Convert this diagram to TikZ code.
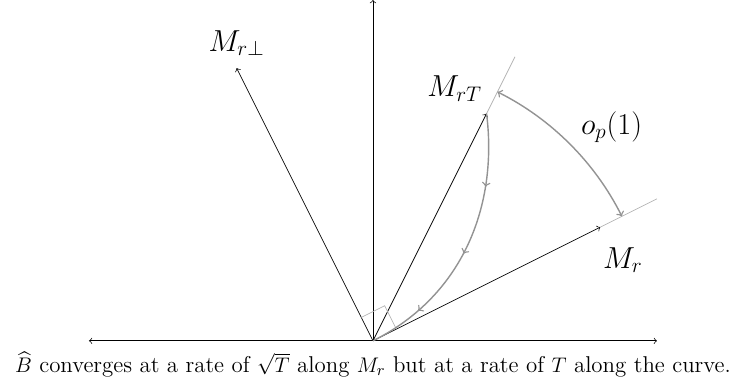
\documentclass[tikz,border=0pt]{standalone}
\usepackage{amsmath,amssymb}
\usetikzlibrary{decorations.markings}

\begin{document}
\begin{tikzpicture}[x=2.27cm,y=2.27cm,
    axis/.style={<->},
    vec/.style={->},
    guide/.style={gray!60},
    lbl/.style={font=\fontsize{18}{22}\selectfont},
    flow/.style={thick,gray!85,postaction={decorate},
                 decoration={markings,
                   mark=at position .27 with {\arrow{>}},
                   mark=at position .53 with {\arrow{>}},
                   mark=at position .80 with {\arrow{>}}}}]
    \useasboundingbox (-3.283,-0.37) rectangle (3.222,3.0);
    % axes
    \coordinate (O) at (0,0);
    \coordinate (xl) at (-2.5,0);
    \coordinate (xr) at (2.5,0);
    \coordinate (yt) at (0,3);
    \draw[axis] (xl) -- (xr);
    \draw[->] (O) -- (yt);
    % vectors
    \coordinate (Mr) at (2,1);
    \coordinate (MrT) at (1,2);
    \coordinate (Mperp) at (-1.2,2.4);
    \coordinate (Mrext) at (2.5,1.25);
    \coordinate (MrText) at (1.25,2.5);
    \draw[guide] (Mr) -- (Mrext);
    \draw[guide] (MrT) -- (MrText);
    \draw[vec] (O) -- (Mr);
    \draw[vec] (O) -- (MrT);
    \draw[vec] (O) -- (Mperp);
    % right angle
    \draw[guide] (-0.103,0.206) -- (0.103,0.309) -- (0.206,0.103);
    % curve and gap
    \draw[flow] (MrT) .. controls (1.1,1.2) and (0.8,0.4) .. (O);
    \coordinate (arcA) at (63.43:2.45);
    \draw[thick,gray!85,<->] (arcA) arc[start angle=63.43,end angle=26.57,radius=2.45];
    % labels
    \node[lbl] (lMr) at (2.2,0.71) {$M_r$};
    \node[lbl] (lMrT) at (0.72,2.22) {$M_{rT}$};
    \node[lbl] (lMperp) at (-1.2,2.62) {$M_{r\perp}$};
    \node[lbl] (lop) at (2.1,1.88) {$o_p(1)$};
    \node[anchor=base,inner sep=0pt,font=\fontsize{13}{16}\selectfont] (cap) at (0,-0.28)
      {$\widehat{B}$ converges at a rate of $\sqrt{T}$ along $M_r$ but at a rate of $T$ along the curve.};
\end{tikzpicture}
\end{document}
